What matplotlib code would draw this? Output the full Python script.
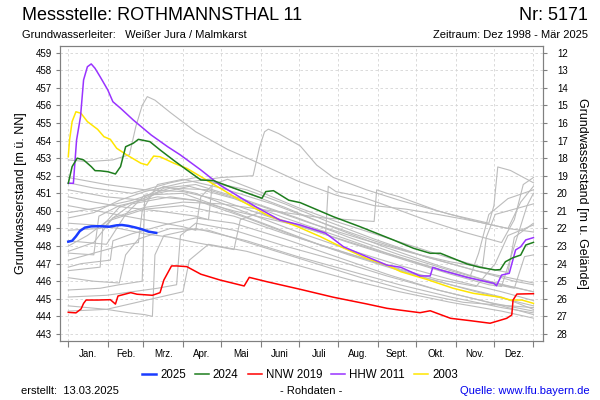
import matplotlib.pyplot as plt
from matplotlib.lines import Line2D

plt.rcParams['font.family'] = ['Liberation Sans', 'DejaVu Sans']

# Achse: Tag im Jahr (0 = 1. Jan.)
monate = ['Jan.', 'Feb.', 'Mrz.', 'Apr.', 'Mai', 'Juni', 'Juli', 'Aug.', 'Sept.', 'Okt.', 'Nov.', 'Dez.']
monatsanfang = [0, 31, 59, 90, 120, 151, 181, 212, 243, 273, 304, 334, 365]
gelaende = 471.0  # m ü. NN

# 2025
t2025 = [0, 3, 6, 9, 13, 18, 25, 32, 38, 42, 47, 53, 58, 63, 69]
w2025 = [448.25, 448.3, 448.55, 448.85, 449.05, 449.12, 449.13, 449.1, 449.18, 449.2, 449.15, 449.05, 448.95, 448.82, 448.75]

# 2024
t2024 = [0, 3, 7, 12, 18, 21, 25, 31, 37, 41, 45, 51, 55, 64, 72, 83, 93, 104, 114, 130, 143, 152, 155, 161,
         173, 182, 208, 229, 255, 271, 284, 292, 313, 323, 335, 339, 343, 349, 355, 359, 365]
w2024 = [451.57, 452.52, 453.0, 452.9, 452.52, 452.29, 452.28, 452.23, 452.1, 452.52, 453.65, 453.85, 454.07,
         453.94, 453.47, 452.86, 452.33, 451.76, 451.72, 451.29, 450.95, 450.72, 451.1, 451.15, 450.61, 450.47,
         449.67, 449.1, 448.35, 447.87, 447.59, 447.59, 446.98, 446.79, 446.64, 446.66, 447.11, 447.34, 447.49,
         448.06, 448.21]

# NNW 2019
tnnw = [0, 6, 10, 12, 14, 23, 33, 37, 39, 49, 54, 66, 72, 75, 81, 85, 93, 104, 119, 138, 142, 156, 182, 208,
        234, 250, 260, 276, 284, 300, 315, 331, 338, 344, 348, 349, 352, 365]
wnnw = [444.23, 444.2, 444.42, 444.74, 444.93, 444.93, 444.95, 444.7, 445.16, 445.35, 445.26, 445.2, 445.35,
        446.07, 446.87, 446.87, 446.83, 446.4, 446.07, 445.73, 446.22, 445.97, 445.54, 445.09, 444.71, 444.46,
        444.36, 444.21, 444.32, 443.89, 443.76, 443.61, 443.76, 443.89, 444.08, 444.93, 445.27, 445.29]

# HHW 2011
thhw = [0, 4, 6.5, 9.6, 12, 15, 18, 21, 25, 31, 35, 41, 51, 65, 78, 88, 104, 119, 147, 166, 182, 202, 216,
        234, 250, 261, 276, 284, 286, 292, 313, 334, 336, 340, 346, 351, 355, 359, 365]
whhw = [451.57, 451.57, 454.03, 455.36, 457.45, 458.2, 458.36, 458.11, 457.63, 456.88, 456.21, 455.84, 455.17,
        454.32, 453.65, 453.18, 452.33, 451.47, 450.24, 449.48, 449.2, 448.73, 447.96, 447.4, 446.92, 446.79,
        446.3, 446.3, 446.79, 446.64, 446.22, 445.88, 445.74, 446.35, 446.45, 447.78, 447.96, 448.35, 448.48]

# 2003
t2003 = [0, 1, 3, 6, 10, 15, 23, 28, 33, 38, 46, 57, 62, 67, 72, 83, 93, 104, 135, 156, 180, 198, 214, 234,
         250, 261, 281, 302, 318, 339, 347, 356, 365]
w2003 = [453.08, 454.03, 455.08, 455.64, 455.55, 455.08, 454.64, 454.22, 454.07, 453.56, 453.18, 452.71,
         452.61, 453.12, 453.08, 452.71, 452.42, 451.95, 450.6, 449.77, 449.1, 448.53, 447.96, 447.3, 446.92,
         446.54, 446.11, 445.6, 445.31, 445.09, 444.93, 444.93, 444.74]

# uebrige Jahre 1999-2023 (grau), Paare (Tag, Wasserstand)
j1999 = [(0, 452.9), (15, 452.8), (35, 452.9), (48, 453.2), (53, 454.8), (58, 456.0), (62, 456.5), (68, 456.3),
         (80, 455.6), (100, 454.5), (125, 453.5), (150, 452.7), (180, 451.7), (210, 450.9), (240, 450.3),
         (265, 450.1), (290, 449.8), (320, 449.4), (345, 449.0), (365, 448.8)]
j2000 = [(0, 449.6), (20, 449.9), (40, 450.6), (60, 451.1), (90, 451.6), (120, 451.9), (145, 452.0), (150, 453.6),
         (154, 454.5), (157, 454.65), (165, 454.4), (182, 453.7), (195, 452.6), (208, 451.9), (234, 451.2),
         (260, 450.6), (300, 449.8), (330, 449.3), (334, 450.3), (337, 452.5), (347, 452.3), (365, 451.6)]
j2001 = [(0, 447.7), (20, 448.2), (35, 449.6), (50, 450.4), (80, 450.8), (100, 450.6), (130, 450.0), (160, 449.5),
         (190, 449.0), (202, 448.8), (204, 451.4), (210, 451.1), (230, 450.8), (250, 450.3), (280, 449.5),
         (310, 448.8), (340, 448.2), (350, 449.5), (357, 451.5), (365, 451.9)]
j2002 = [(0, 446.6), (25, 446.8), (27, 449.0), (35, 449.6), (60, 450.2), (90, 450.5), (120, 450.4), (160, 450.0),
         (200, 449.6), (240, 449.4), (242, 451.2), (250, 451.0), (260, 450.8), (290, 450.0), (320, 449.4),
         (345, 449.0), (355, 450.5), (365, 451.4)]
j2004 = [(0, 451.6), (20, 451.3), (50, 451.0), (80, 451.6), (100, 451.9), (130, 451.3), (170, 450.2), (210, 449.0),
         (250, 447.9), (290, 446.9), (330, 446.0), (365, 445.4)]
j2005 = [(0, 451.2), (30, 450.8), (60, 450.6), (75, 451.3), (100, 451.5), (140, 450.6), (180, 449.6), (220, 448.5),
         (260, 447.5), (300, 446.6), (340, 445.8), (365, 445.4)]
j2006 = [(0, 448.9), (25, 449.0), (40, 450.2), (70, 451.0), (95, 451.4), (130, 450.7), (170, 449.6), (210, 448.6),
         (250, 447.6), (290, 446.7), (330, 445.9), (350, 445.6), (358, 447.4), (365, 447.5)]
j2007 = [(0, 448.3), (30, 448.1), (45, 449.8), (60, 450.9), (90, 451.0), (120, 450.2), (160, 449.1), (200, 448.0),
         (240, 447.1), (280, 446.2), (320, 445.4), (365, 444.6)]
j2008 = [(0, 447.6), (20, 447.5), (24, 449.7), (40, 450.3), (70, 450.8), (100, 450.6), (140, 449.6), (180, 448.5),
         (220, 447.5), (260, 446.6), (300, 445.8), (340, 445.1), (365, 444.4)]
j2009 = [(0, 445.5), (25, 445.6), (40, 445.8), (58, 446.0), (60, 450.8), (75, 451.4), (100, 451.0), (140, 449.9),
         (180, 448.8), (220, 447.8), (260, 446.9), (300, 446.1), (340, 445.4), (365, 444.9)]
j2010 = [(0, 445.1), (30, 445.2), (50, 445.4), (70, 445.6), (85, 445.8), (88, 448.6), (100, 449.3), (130, 448.9),
         (170, 448.0), (210, 447.2), (250, 446.3), (290, 445.5), (330, 444.8), (365, 444.3)]
j2012 = [(0, 444.6), (30, 444.4), (48, 444.2), (60, 444.1), (66, 444.0), (68, 447.5), (75, 448.6), (100, 449.0),
         (140, 448.3), (180, 447.4), (220, 446.6), (260, 445.8), (300, 445.1), (340, 444.5), (365, 444.2)]
j2013 = [(0, 450.8), (20, 450.5), (45, 450.2), (70, 450.0), (100, 449.7), (110, 449.5), (113, 451.5), (125, 451.8),
         (150, 451.1), (180, 450.2), (210, 449.4), (240, 448.7), (270, 448.0), (300, 447.3), (330, 446.7),
         (345, 446.5), (350, 448.5), (365, 449.3)]
j2014 = [(0, 449.3), (20, 449.2), (40, 449.0), (60, 448.7), (80, 448.5), (100, 448.2), (130, 447.8), (135, 449.5),
         (150, 449.9), (180, 449.2), (220, 448.2), (260, 447.3), (300, 446.4), (330, 445.8), (340, 445.7),
         (350, 448.0), (360, 450.3), (365, 451.0)]
j2015 = [(0, 446.8), (10, 447.0), (33, 447.2), (35, 448.3), (50, 448.7), (75, 449.2), (100, 449.6), (130, 449.3),
         (170, 448.4), (210, 447.4), (250, 446.4), (290, 445.5), (330, 444.8), (365, 444.1)]
j2016 = [(0, 444.3), (30, 444.4), (60, 444.9), (90, 445.4), (95, 447.2), (110, 448.1), (140, 447.7), (180, 446.9),
         (220, 446.1), (260, 445.4), (300, 444.8), (340, 444.3), (365, 443.9)]
j2017 = [(0, 451.9), (30, 451.5), (60, 451.2), (90, 451.1), (120, 450.6), (160, 449.6), (200, 448.7), (240, 447.8),
         (280, 446.9), (315, 446.2), (322, 447.6), (330, 449.8), (345, 450.7), (365, 451.2)]
j2018 = [(0, 447.2), (20, 447.6), (40, 448.0), (55, 448.2), (58, 450.0), (70, 451.5), (90, 451.8), (120, 451.3),
         (160, 450.4), (200, 449.3), (240, 448.3), (280, 447.4), (320, 446.6), (350, 446.0), (365, 445.8)]
j2020 = [(0, 450.3), (30, 449.9), (60, 449.5), (90, 449.1), (100, 448.9), (104, 450.8), (115, 451.6), (140, 451.2),
         (170, 450.4), (200, 449.5), (240, 448.4), (280, 447.4), (320, 446.6), (365, 445.9)]
j2021 = [(0, 446.2), (20, 446.0), (40, 445.9), (45, 447.5), (55, 448.4), (80, 449.0), (110, 448.9), (150, 448.0),
         (190, 447.1), (230, 446.2), (270, 445.4), (310, 444.8), (365, 444.5)]
j2022 = [(0, 448.0), (15, 448.6), (30, 449.4), (60, 450.1), (90, 450.3), (130, 449.7), (170, 448.7), (210, 447.8),
         (250, 446.9), (290, 446.1), (320, 445.7), (335, 447.0), (345, 448.6), (365, 449.2)]
j2023 = [(0, 449.9), (25, 450.2), (50, 450.6), (80, 451.3), (110, 451.2), (150, 450.3), (190, 449.3), (230, 448.4),
         (270, 447.6), (300, 447.1), (325, 446.8), (328, 448.5), (335, 449.8), (365, 450.4)]
graue_jahre = [j1999, j2000, j2001, j2002, j2004, j2005, j2006, j2007, j2008, j2009, j2010, j2012,
               j2013, j2014, j2015, j2016, j2017, j2018, j2020, j2021, j2022, j2023]

fig = plt.figure(figsize=(6, 4), dpi=100)
ax = fig.add_axes([0.1, 0.1475, 0.805, 0.7375])
ax.set_xlim(-6.5, 372.5)
ax.set_ylim(442.6, 459.38)

for jahr in graue_jahre:
    tage = [p[0] for p in jahr]
    werte = [p[1] for p in jahr]
    ax.plot(tage, werte, color='#bcbcbc', lw=0.8, zorder=2)

ax.plot(t2003, w2003, color='#ffe600', lw=1.1, zorder=3)
ax.plot(thhw, whhw, color='#9933ff', lw=1.1, zorder=4)
ax.plot(tnnw, wnnw, color='#ff0000', lw=1.1, zorder=5)
ax.plot(t2024, w2024, color='#1e7d1e', lw=1.1, zorder=6)
ax.plot(t2025, w2025, color='#1a3cff', lw=1.8, zorder=7)

# Achsen, Gitter
ax.set_xticks(monatsanfang)
ax.set_xticklabels([])
mitte = [(a + b) / 2 for a, b in zip(monatsanfang[:-1], monatsanfang[1:])]
ax.set_xticks(mitte, minor=True)
ax.set_xticklabels(monate, minor=True, fontsize=7)
ax.tick_params(axis='x', which='major', length=4, color='#808080')
ax.tick_params(axis='x', which='minor', length=0, pad=6)
ax.set_yticks(range(443, 460))
ax.tick_params(axis='y', length=3, color='#808080', labelsize=7, pad=3)
ax.grid(True, which='major', color='#d4d4d4', lw=0.6, linestyle=(0, (3, 3)), zorder=0)
ax.set_axisbelow(True)
for s in ax.spines.values():
    s.set_color('#808080')

ax2 = ax.twinx()
ax2.set_ylim(gelaende - 442.6, gelaende - 459.38)
ax2.set_yticks(range(12, 29))
ax2.tick_params(axis='y', length=3, color='#808080', labelsize=7, pad=7)
for s in ax2.spines.values():
    s.set_color('#808080')

fig.text(0.035, 0.516, 'Grundwasserstand [m ü. NN]', rotation=90, ha='center', va='center', fontsize=9)
fig.text(0.970, 0.516, 'Grundwasserstand [m u. Gelände]', rotation=-90, ha='center', va='center', fontsize=9)

# Kopf
fig.text(0.037, 0.962, 'Messstelle: ROTHMANNSTHAL 11', fontsize=13, ha='left', va='center')
fig.text(0.98, 0.962, 'Nr: 5171', fontsize=13, ha='right', va='center')
fig.text(0.037, 0.912, 'Grundwasserleiter:   Weißer Jura / Malmkarst', fontsize=8, ha='left', va='center')
fig.text(0.98, 0.912, 'Zeitraum: Dez 1998 - Mär 2025', fontsize=8, ha='right', va='center')

# Legende
griffe = [Line2D([], [], color='#1a3cff', lw=1.8), Line2D([], [], color='#1e7d1e', lw=1.1),
          Line2D([], [], color='#ff0000', lw=1.1), Line2D([], [], color='#9933ff', lw=1.1),
          Line2D([], [], color='#ffe600', lw=1.1)]
fig.legend(griffe, ['2025', '2024', 'NNW 2019', 'HHW 2011', '2003'], loc='center', ncol=5,
           bbox_to_anchor=(0.5, 0.0625), frameon=False, fontsize=8.3, handlelength=1.2,
           handletextpad=0.35, columnspacing=0.8)

# Fuss
fig.text(0.035, 0.0225, 'erstellt:  13.03.2025', fontsize=8, ha='left', va='center')
fig.text(0.518, 0.0225, '- Rohdaten -', fontsize=8, ha='center', va='center')
fig.text(0.982, 0.0225, 'Quelle: www.lfu.bayern.de', fontsize=8, ha='right', va='center', color='#0000ee')

fig.savefig('out.png', dpi=100)
